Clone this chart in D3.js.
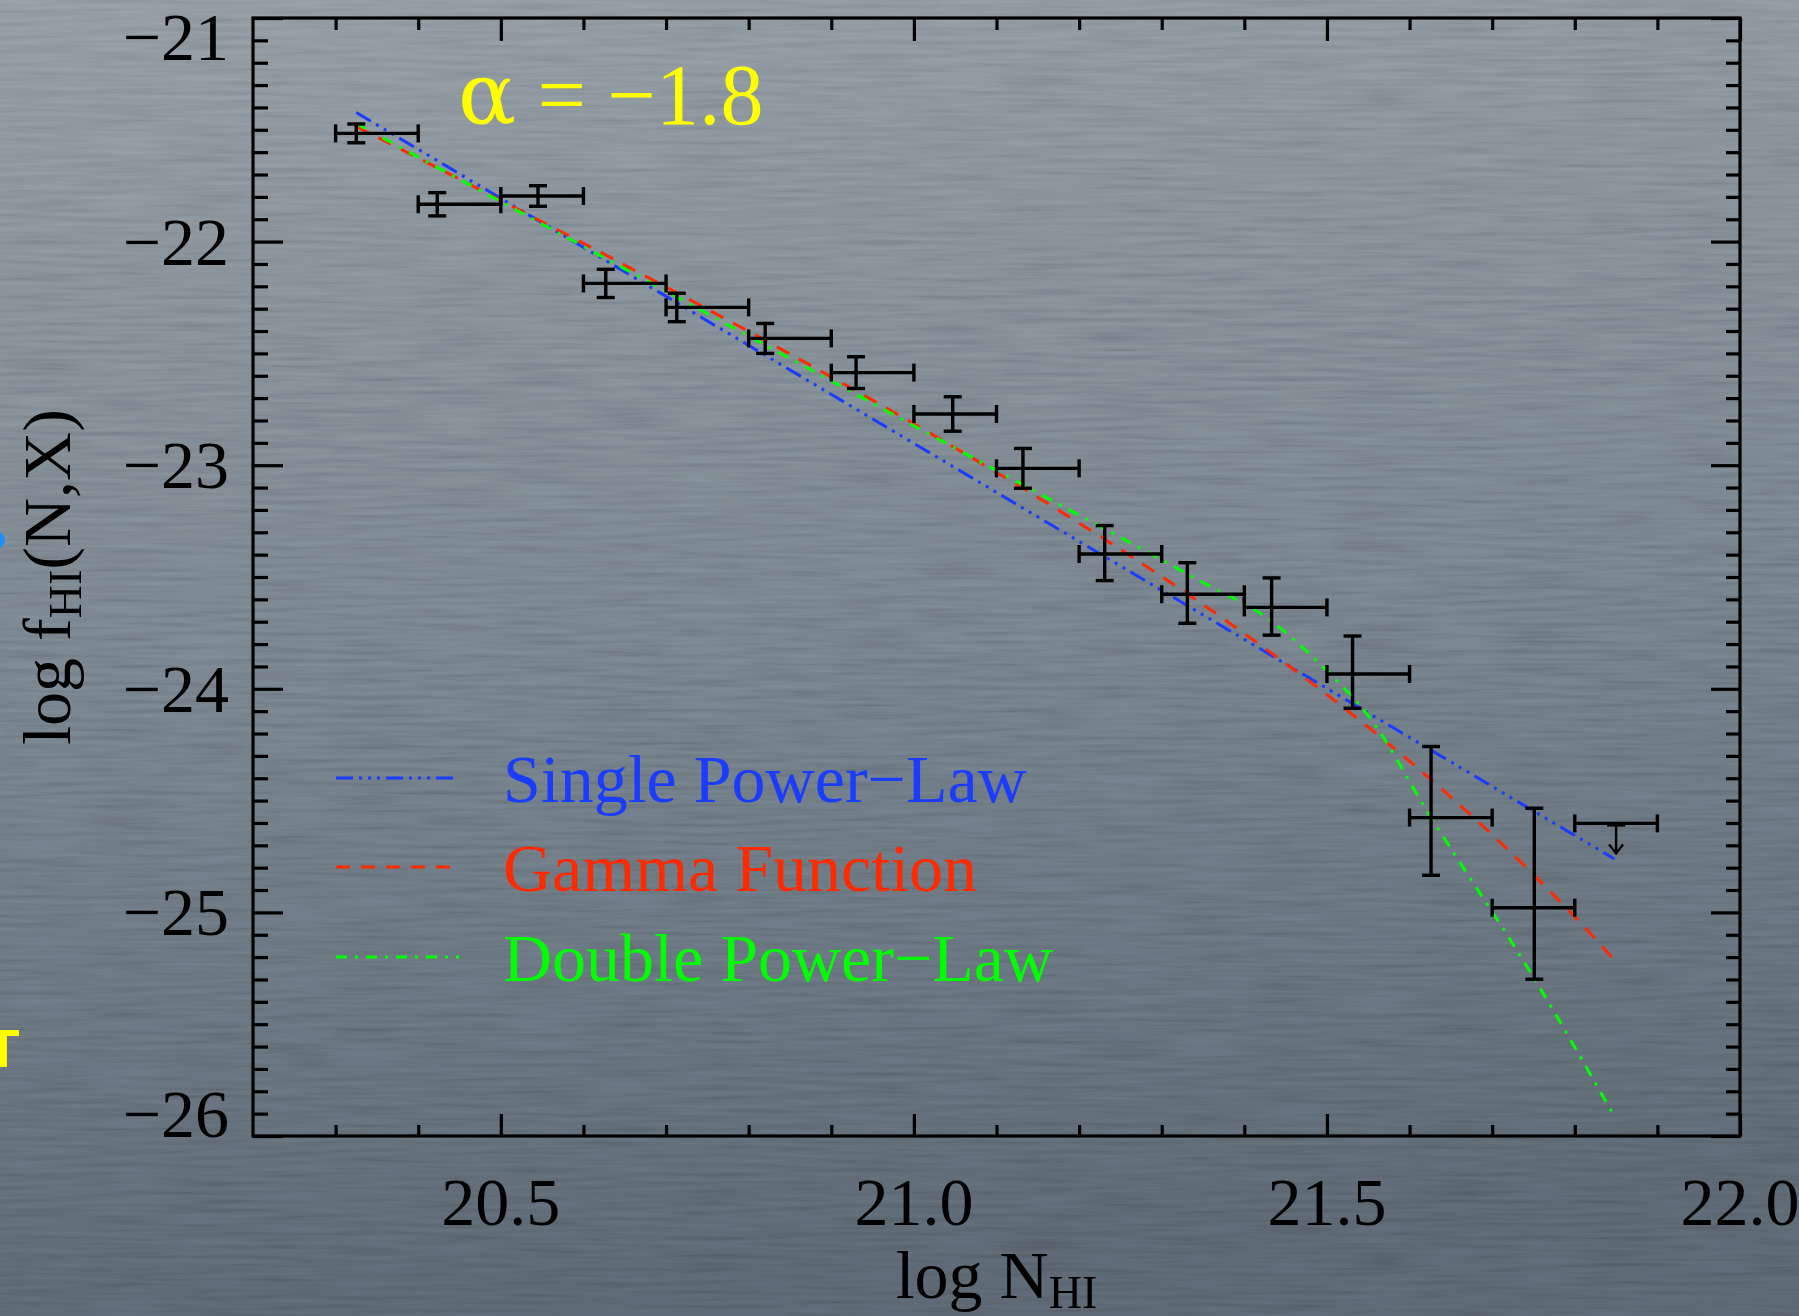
<!DOCTYPE html>
<html>
<head>
<meta charset="utf-8">
<script src="https://cdn.jsdelivr.net/npm/d3@7"></script>
<style>
  html, body { margin: 0; padding: 0; overflow: hidden; background: #737e88; }
  svg { display: block; }
  text { font-family: "Liberation Serif", "Times New Roman", Times, serif; }
</style>
</head>
<body>
<svg id="chart" width="1799" height="1316"></svg>
<script>
// ---- binned H I column density distribution ----
const binLo   = [20.3, 20.4, 20.5, 20.6, 20.7, 20.8, 20.9, 21.0, 21.1, 21.2, 21.3, 21.4, 21.5, 21.6, 21.7];
const binHi   = [20.4, 20.5, 20.6, 20.7, 20.8, 20.9, 21.0, 21.1, 21.2, 21.3, 21.4, 21.5, 21.6, 21.7, 21.8];
const logN    = [20.325, 20.423, 20.545, 20.627, 20.713, 20.820, 20.930, 21.047, 21.132, 21.231, 21.331, 21.433, 21.531, 21.626, 21.751];
const logF    = [-21.516, -21.833, -21.796, -22.187, -22.294, -22.433, -22.586, -22.771, -23.014, -23.397, -23.577, -23.636, -23.934, -24.576, -24.979];
const errUp   = [0.042, 0.052, 0.046, 0.063, 0.063, 0.067, 0.071, 0.077, 0.089, 0.127, 0.141, 0.132, 0.170, 0.318, 0.445];
const errDown = [0.042, 0.052, 0.046, 0.063, 0.064, 0.067, 0.071, 0.077, 0.089, 0.119, 0.130, 0.124, 0.153, 0.258, 0.320];

// upper limit in the highest bin
const limitBinLo = [21.8];
const limitBinHi = [21.9];
const limitN     = [21.85];
const limitF     = [-24.602];
const limitDrop  = [0.134];

// fitted models
const singleX = [20.325, 21.848];
const singleY = [-21.423, -24.761];
const gammaX  = [20.325, 20.5, 20.6, 20.7, 20.8, 20.9, 21.0, 21.1, 21.2, 21.3, 21.4, 21.5, 21.6, 21.7, 21.8, 21.848];
const gammaY  = [-21.485, -21.816, -22.008, -22.203, -22.402, -22.605, -22.815, -23.032, -23.259, -23.498, -23.753, -24.026, -24.324, -24.653, -25.020, -25.213];
const doubleX = [20.325, 20.70, 21.10, 21.35, 21.43, 21.50, 21.55, 21.625, 21.75, 21.847];
const doubleY = [-21.472, -22.222, -23.024, -23.525, -23.69, -23.92, -24.12, -24.57, -25.29, -25.906];

// axes
const xDomain = [20.2, 22.0];
const yDomain = [-21, -26];
const xTicks = [20.5, 21.0, 21.5, 22.0];
const xTickLabels = ["20.5", "21.0", "21.5", "22.0"];
const yTicks = [-21, -22, -23, -24, -25, -26];
const yTickLabels = ["\u221221", "\u221222", "\u221223", "\u221224", "\u221225", "\u221226"];

const legendLabels = ["Single Power\u2212Law", "Gamma Function", "Double Power\u2212Law"];
const legendColors = ["#1a3cff", "#ff2a00", "#00ff00"];
const legendDash   = ["17,6,3,6,3,6,3,6", "14,11", "11,8,3,8"];
const alphaSymbol  = "\u03b1";
const alphaValue   = " = \u22121.8";

// ---- layout ----
const W = 1799, H = 1316;
const plot = { left: 253, right: 1740, top: 18, bottom: 1136 };
const svg = d3.select("#chart");

const x = d3.scaleLinear().domain(xDomain).range([plot.left, plot.right]);
const y = d3.scaleLinear().domain(yDomain).range([plot.top, plot.bottom]);

// ---- slide background: graded slate with a fine horizontal grain ----
const defs = svg.append("defs");
const grad = defs.append("linearGradient").attr("id", "bg").attr("x1", 0).attr("y1", 0).attr("x2", 0.12).attr("y2", 1);
grad.append("stop").attr("offset", 0).attr("stop-color", "#8c969e");
grad.append("stop").attr("offset", 0.5).attr("stop-color", "#727d87");
grad.append("stop").attr("offset", 1).attr("stop-color", "#57626c");

const grain = defs.append("filter").attr("id", "grain")
  .attr("x", 0).attr("y", 0).attr("width", "100%").attr("height", "100%");
grain.append("feTurbulence").attr("type", "fractalNoise")
  .attr("baseFrequency", "0.012 0.22").attr("numOctaves", 3).attr("seed", 11);
grain.append("feColorMatrix").attr("type", "matrix")
  .attr("values", "1 0 0 0 0  1 0 0 0 0  1 0 0 0 0  0 0 0 0 1");

svg.append("rect").attr("width", W).attr("height", H).attr("fill", "url(#bg)");
svg.append("rect").attr("width", W).attr("height", H)
  .attr("filter", "url(#grain)").style("mix-blend-mode", "overlay").attr("opacity", 0.16);

// fragments of neighbouring slide elements at the left edge
svg.append("circle").attr("cx", -4).attr("cy", 540).attr("r", 9).attr("fill", "#1e8fff");
svg.append("text").attr("x", 3).attr("y", 1067).attr("text-anchor", "middle")
  .style("font-family", "'Liberation Sans', Arial, sans-serif").style("font-weight", "bold")
  .attr("font-size", 54).attr("fill", "#ffff00").text("T");

// ---- axes (ticks point inward, mirrored on all four sides) ----
const isMajorX = v => Math.abs(v * 2 - Math.round(v * 2)) < 1e-6;
const minorX = x.ticks(18).filter(v => !isMajorX(v) && v > xDomain[0] + 1e-6 && v < xDomain[1] - 1e-6);
const minorY = y.ticks(50).filter(v => Math.abs(v - Math.round(v)) > 1e-6);

const axisStroke = g => {
  g.select(".domain").remove();
  g.selectAll(".tick line").attr("stroke", "#000").attr("stroke-width", 3.2);
  g.selectAll(".tick text").remove();
};

svg.append("g").attr("transform", `translate(0,${plot.bottom})`)
  .call(d3.axisBottom(x).tickValues(minorX).tickSize(-11)).call(axisStroke);
svg.append("g").attr("transform", `translate(0,${plot.bottom})`)
  .call(d3.axisBottom(x).tickValues(xTicks).tickSize(-22)).call(axisStroke);
svg.append("g").attr("transform", `translate(0,${plot.top})`)
  .call(d3.axisTop(x).tickValues(minorX).tickSize(-12)).call(axisStroke);
svg.append("g").attr("transform", `translate(0,${plot.top})`)
  .call(d3.axisTop(x).tickValues(xTicks).tickSize(-23)).call(axisStroke);
svg.append("g").attr("transform", `translate(${plot.left},0)`)
  .call(d3.axisLeft(y).tickValues(minorY).tickSize(-15)).call(axisStroke);
svg.append("g").attr("transform", `translate(${plot.left},0)`)
  .call(d3.axisLeft(y).tickValues(yTicks).tickSize(-30)).call(axisStroke);
svg.append("g").attr("transform", `translate(${plot.right},0)`)
  .call(d3.axisRight(y).tickValues(minorY).tickSize(-14)).call(axisStroke);
svg.append("g").attr("transform", `translate(${plot.right},0)`)
  .call(d3.axisRight(y).tickValues(yTicks).tickSize(-29)).call(axisStroke);

svg.append("rect")
  .attr("x", plot.left).attr("y", plot.top)
  .attr("width", plot.right - plot.left).attr("height", plot.bottom - plot.top)
  .attr("fill", "none").attr("stroke", "#000").attr("stroke-width", 3.2);

// tick labels; end labels are kept within the axis span
svg.append("g").selectAll("text").data(xTicks).join("text")
  .attr("x", d => x(d)).attr("y", plot.bottom + 89)
  .attr("text-anchor", "middle").attr("font-size", 68).attr("fill", "#000")
  .text((d, i) => xTickLabels[i]);

svg.append("g").selectAll("text").data(yTicks).join("text")
  .attr("x", 229)
  .attr("y", d => Math.min(Math.max(y(d) + 23, plot.top + 42), plot.bottom + 1))
  .attr("text-anchor", "end").attr("font-size", 68).attr("fill", "#000")
  .text((d, i) => yTickLabels[i]);

// axis titles
const xTitle = svg.append("text").attr("x", (plot.left + plot.right) / 2).attr("y", 1298)
  .attr("text-anchor", "middle").attr("font-size", 68).attr("fill", "#000");
xTitle.append("tspan").text("log N");
xTitle.append("tspan").attr("font-size", 46).attr("dy", 10).text("HI");

const yTitle = svg.append("text")
  .attr("transform", `translate(70,${(plot.top + plot.bottom) / 2}) rotate(-90)`)
  .attr("text-anchor", "middle").attr("font-size", 68).attr("fill", "#000");
yTitle.append("tspan").text("log f");
yTitle.append("tspan").attr("font-size", 46).attr("dy", 11).text("HI");
yTitle.append("tspan").attr("dy", -11).text("(N,X)");

// ---- model curves ----
defs.append("clipPath").attr("id", "plotClip").append("rect")
  .attr("x", plot.left).attr("y", plot.top)
  .attr("width", plot.right - plot.left).attr("height", plot.bottom - plot.top);

const curves = svg.append("g").attr("clip-path", "url(#plotClip)");
const line = d3.line().x(d => x(d[0])).y(d => y(d[1]));
const lineSmooth = d3.line().x(d => x(d[0])).y(d => y(d[1])).curve(d3.curveMonotoneX);

const series = [
  { pts: d3.zip(singleX, singleY), gen: line, i: 0 },
  { pts: d3.zip(gammaX, gammaY), gen: lineSmooth, i: 1 },
  { pts: d3.zip(doubleX, doubleY), gen: lineSmooth, i: 2 }
];
curves.selectAll("path").data(series).join("path")
  .attr("d", s => s.gen(s.pts))
  .attr("fill", "none")
  .attr("stroke", s => legendColors[s.i])
  .attr("stroke-width", 3)
  .attr("stroke-dasharray", s => legendDash[s.i]);

// ---- data points with error bars ----
const pts = svg.append("g").attr("stroke", "#000").attr("stroke-width", 3.4).attr("fill", "none");
const cap = 9;
const rows = logN.map((n, i) => ({ n, f: logF[i], lo: binLo[i], hi: binHi[i], up: errUp[i], dn: errDown[i] }));

const pg = pts.selectAll("g.pt").data(rows).join("g").attr("class", "pt");
pg.append("line") // bin width
  .attr("x1", d => x(d.lo)).attr("x2", d => x(d.hi))
  .attr("y1", d => y(d.f)).attr("y2", d => y(d.f));
pg.append("line")
  .attr("x1", d => x(d.lo)).attr("x2", d => x(d.lo))
  .attr("y1", d => y(d.f) - cap).attr("y2", d => y(d.f) + cap);
pg.append("line")
  .attr("x1", d => x(d.hi)).attr("x2", d => x(d.hi))
  .attr("y1", d => y(d.f) - cap).attr("y2", d => y(d.f) + cap);
pg.append("line") // Poisson uncertainty
  .attr("x1", d => x(d.n)).attr("x2", d => x(d.n))
  .attr("y1", d => y(d.f + d.up)).attr("y2", d => y(d.f - d.dn));
pg.append("line")
  .attr("x1", d => x(d.n) - cap).attr("x2", d => x(d.n) + cap)
  .attr("y1", d => y(d.f + d.up)).attr("y2", d => y(d.f + d.up));
pg.append("line")
  .attr("x1", d => x(d.n) - cap).attr("x2", d => x(d.n) + cap)
  .attr("y1", d => y(d.f - d.dn)).attr("y2", d => y(d.f - d.dn));

// upper limit: bin bar plus downward arrow
const lim = limitN.map((n, i) => ({ n, f: limitF[i], lo: limitBinLo[i], hi: limitBinHi[i], drop: limitDrop[i] }));
const lg = pts.selectAll("g.lim").data(lim).join("g").attr("class", "lim");
lg.append("line")
  .attr("x1", d => x(d.lo)).attr("x2", d => x(d.hi))
  .attr("y1", d => y(d.f)).attr("y2", d => y(d.f));
lg.append("line")
  .attr("x1", d => x(d.lo)).attr("x2", d => x(d.lo))
  .attr("y1", d => y(d.f) - cap).attr("y2", d => y(d.f) + cap);
lg.append("line")
  .attr("x1", d => x(d.hi)).attr("x2", d => x(d.hi))
  .attr("y1", d => y(d.f) - cap).attr("y2", d => y(d.f) + cap);
lg.append("line")
  .attr("x1", d => x(d.n) - cap).attr("x2", d => x(d.n) + cap)
  .attr("y1", d => y(d.f) + 1.5).attr("y2", d => y(d.f) + 1.5);
lg.append("line").attr("stroke-width", 2.4)
  .attr("x1", d => x(d.n)).attr("x2", d => x(d.n))
  .attr("y1", d => y(d.f)).attr("y2", d => y(d.f - d.drop));
lg.append("path").attr("stroke-width", 2.4)
  .attr("d", d => `M${x(d.n) - 7},${y(d.f - d.drop) - 9} L${x(d.n)},${y(d.f - d.drop)} L${x(d.n) + 7},${y(d.f - d.drop) - 9}`);

// ---- annotation and legend ----
const alpha = svg.append("text").attr("x", 458).attr("y", 124).attr("font-size", 86)
  .attr("fill", "#ffff00");
alpha.append("tspan")
  .style("font-family", "'DejaVu Serif', 'Liberation Serif', serif")
  .text(alphaSymbol);
alpha.append("tspan")
  .style("font-family", "'Liberation Serif', 'Times New Roman', serif")
  .text(alphaValue);

const legendY = [778, 867, 957];
const leg = svg.append("g").selectAll("g").data(legendLabels).join("g")
  .attr("transform", (d, i) => `translate(0,${legendY[i]})`);
leg.append("line").attr("x1", 336).attr("x2", 459).attr("y1", 0).attr("y2", 0)
  .attr("stroke", (d, i) => legendColors[i]).attr("stroke-width", 3)
  .attr("stroke-dasharray", (d, i) => legendDash[i]);
leg.append("text").attr("x", 503).attr("y", 24).attr("font-size", 68)
  .attr("fill", (d, i) => legendColors[i]).text(d => d);
</script>
</body>
</html>
